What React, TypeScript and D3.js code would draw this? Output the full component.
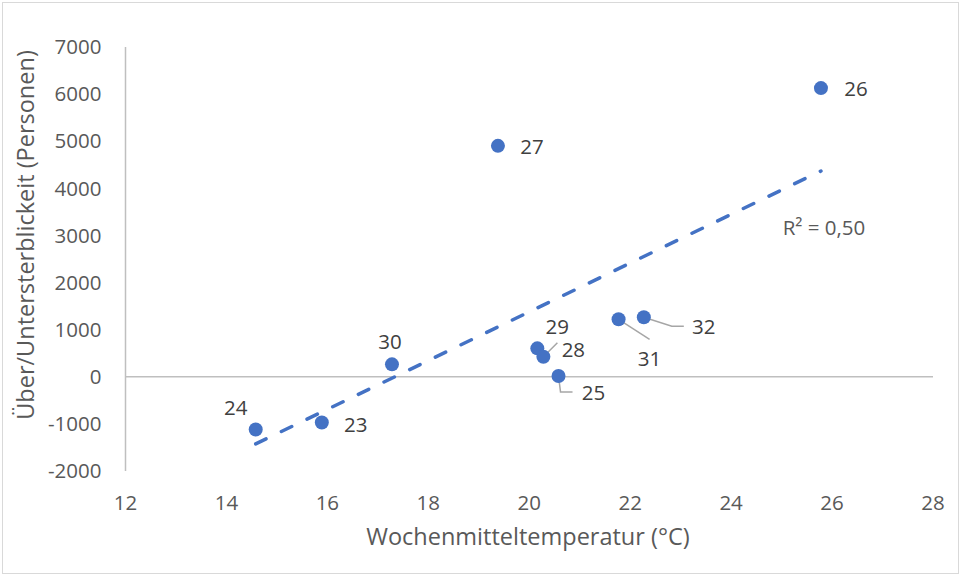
import React from "react";
import * as d3 from "d3";

// week temperature (°C) vs excess/deficit mortality, labelled by calendar week
const weeks = ["24", "23", "30", "27", "29", "28", "25", "31", "32", "26"];
const temps = [14.58, 15.89, 17.28, 19.38, 20.16, 20.28, 20.58, 21.77, 22.27, 25.78];
const deaths = [-1118, -969, 264, 4902, 603, 425, 15, 1220, 1262, 6128];

const xTicks = [12, 14, 16, 18, 20, 22, 24, 26, 28];
const yTicks = [-2000, -1000, 0, 1000, 2000, 3000, 4000, 5000, 6000, 7000];

// label placement relative to the marker (pixels), with optional leader line
const labelLayout: { dx: number; dy: number; leader?: [number, number][] }[] = [
  { dx: -20, dy: -22 },
  { dx: 34, dy: 2 },
  { dx: -2, dy: -23 },
  { dx: 34, dy: 1 },
  { dx: 20, dy: -22 },
  { dx: 30, dy: -7, leader: [[14, -14]] },
  { dx: 35, dy: 17, leader: [[2, 16], [14, 16]] },
  { dx: 31, dy: 40, leader: [[31, 20]] },
  { dx: 60, dy: 10, leader: [[28, 9], [40, 9]] },
  { dx: 35, dy: 1 },
];

const W = 961;
const H = 577;
const margin = { top: 47, right: 28, bottom: 106, left: 125.5 };
const FONT = "'Open Sans', 'Noto Sans', sans-serif";
const BLUE = "#4472C4";
const TICK_SIZE = 20.5;
const TITLE_SIZE = 23.5;

export default function App() {
  const x = d3
    .scaleLinear()
    .domain([12, 28])
    .range([margin.left, W - margin.right]);
  const y = d3
    .scaleLinear()
    .domain([-2000, 7000])
    .range([H - margin.bottom, margin.top]);

  // least squares trend line
  const mx = d3.mean(temps)!;
  const my = d3.mean(deaths)!;
  let sxy = 0;
  let sxx = 0;
  let syy = 0;
  temps.forEach((t, i) => {
    sxy += (t - mx) * (deaths[i] - my);
    sxx += (t - mx) ** 2;
    syy += (deaths[i] - my) ** 2;
  });
  const slope = sxy / sxx;
  const icpt = my - slope * mx;
  const r2 = (sxy * sxy) / (sxx * syy);
  const x0 = d3.min(temps)!;
  const x1 = d3.max(temps)!;
  const trend = d3.line<number>()
    .x((t) => x(t))
    .y((t) => y(icpt + slope * t))([x0, x1]);

  return (
    <svg
      width={W}
      height={H}
      style={{ position: "absolute", left: 0, top: 0, background: "#fff" }}
      fontFamily={FONT}
    >
      <rect x={2.5} y={2.5} width={W - 5} height={H - 6} fill="#fff" stroke="#d9d9d9" />

      {/* axes */}
      <line x1={x(12)} x2={x(12)} y1={y(7000)} y2={y(-2000)} stroke="#bfbfbf" strokeWidth={1.5} />
      <line x1={x(12)} x2={x(28)} y1={y(0)} y2={y(0)} stroke="#bfbfbf" strokeWidth={1.5} />

      {yTicks.map((t) => (
        <text key={t} x={x(12) - 24} y={y(t)} dy="0.35em" textAnchor="end" fontSize={TICK_SIZE} fill="#595959">
          {t}
        </text>
      ))}
      {xTicks.map((t) => (
        <text key={t} x={x(t)} y={503} dy="0.35em" textAnchor="middle" fontSize={TICK_SIZE} fill="#595959">
          {t}
        </text>
      ))}

      <text x={528} y={537} dy="0.35em" textAnchor="middle" fontSize={TITLE_SIZE} fill="#595959">
        Wochenmitteltemperatur (°C)
      </text>
      <text
        transform={`translate(26,235) rotate(-90)`}
        dy="0.35em"
        textAnchor="middle"
        fontSize={TITLE_SIZE}
        fill="#595959"
      >
        Über/Untersterblickeit (Personen)
      </text>

      {/* trend */}
      <path
        d={trend ?? ""}
        fill="none"
        stroke={BLUE}
        strokeWidth={3.5}
        strokeDasharray="11.5 17"
        strokeLinecap="round"
      />
      <text x={824} y={228} dy="0.35em" textAnchor="middle" fontSize={TICK_SIZE} fill="#595959">
        {`R² = ${r2.toFixed(2).replace(".", ",")}`}
      </text>

      {/* leader lines */}
      {temps.map((t, i) => {
        const l = labelLayout[i];
        if (!l.leader) return null;
        const px = x(t);
        const py = y(deaths[i]);
        const pts: [number, number][] = [[px, py], ...l.leader.map(([a, b]) => [px + a, py + b] as [number, number])];
        return (
          <path key={"l" + i} d={d3.line()(pts) ?? ""} fill="none" stroke="#a6a6a6" strokeWidth={1.5} />
        );
      })}

      {/* points */}
      {temps.map((t, i) => (
        <circle key={"p" + i} cx={x(t)} cy={y(deaths[i])} r={7} fill={BLUE} />
      ))}

      {/* labels */}
      {temps.map((t, i) => (
        <text
          key={"t" + i}
          x={x(t) + labelLayout[i].dx}
          y={y(deaths[i]) + labelLayout[i].dy}
          dy="0.35em"
          textAnchor="middle"
          fontSize={TICK_SIZE}
          fill="#404040"
        >
          {weeks[i]}
        </text>
      ))}
    </svg>
  );
}
